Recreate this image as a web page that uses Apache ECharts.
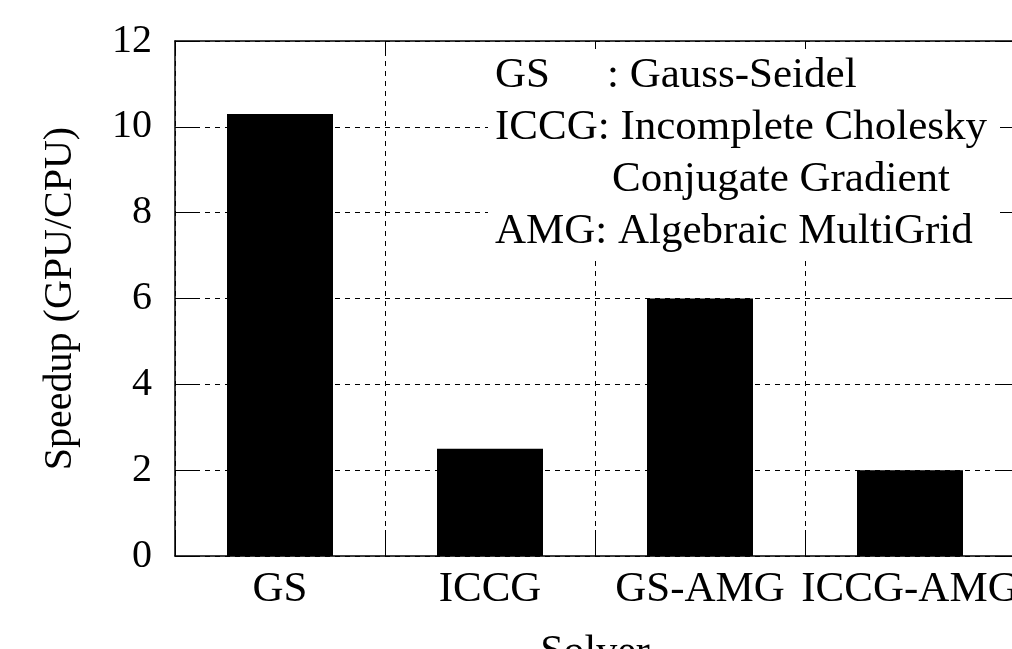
<!DOCTYPE html>
<html>
<head>
<meta charset="utf-8">
<script src="https://cdn.jsdelivr.net/npm/echarts@6/dist/echarts.min.js"></script>
<style>
html,body{margin:0;padding:0;background:#fff;}
#c{width:1012px;height:649px;}
</style>
</head>
<body>
<div id="c"></div>
<script>
const categories = ['GS', 'ICCG', 'GS-AMG', 'ICCG-AMG'];
const speedup = [10.3, 2.5, 6.0, 2.0];
const yTicks = [0, 2, 4, 6, 8, 10, 12];
const keyLines = [
  ['GS', ': Gauss-Seidel'],
  ['ICCG: Incomplete Cholesky', ''],
  ['', 'Conjugate Gradient'],
  ['AMG: Algebraic MultiGrid', '']
];
const xName = 'Solver';
const yName = 'Speedup (GPU/CPU)';

const FONT = '"Liberation Serif", "DejaVu Serif", serif';
const FS = 43;
const YFS = 40;
const KFS = 43;
const chart = echarts.init(document.getElementById('c'), null, {renderer: 'canvas'});

const gridLine = {show: true, interval: 0, lineStyle: {color: '#000', width: 1, type: [5, 5]}};

const graphics = [{
  type: 'rect', z: 50,
  shape: {x: 488, y: 49, width: 512, height: 209},
  style: {fill: '#fff'}
}];
const lineY = [76, 128, 180, 232];
keyLines.forEach((ln, i) => {
  if (ln[0]) graphics.push({type: 'text', z: 51, x: 495, y: lineY[i],
    style: {text: ln[0], font: KFS + 'px ' + FONT, fill: '#000', textVerticalAlign: 'middle'}});
  if (ln[1]) graphics.push({type: 'text', z: 51, x: ln[0] ? 607 : 612, y: lineY[i],
    style: {text: ln[1], font: KFS + 'px ' + FONT, fill: '#000', textVerticalAlign: 'middle'}});
});

chart.setOption({
  animation: false,
  backgroundColor: '#fff',
  textStyle: {fontFamily: FONT},
  grid: {left: 175, top: 41, right: -3, bottom: 93, containLabel: false, outerBoundsMode: 'none'},
  xAxis: [{
    type: 'category', data: categories, position: 'bottom', boundaryGap: true,
    axisLine: {show: true, onZero: false, lineStyle: {color: '#000', width: 1.5}},
    axisTick: {show: true, inside: true, interval: 0, length: 26, lineStyle: {color: '#000'}},
    axisLabel: {color: '#000', fontSize: FS, fontFamily: FONT, margin: 12, interval: 0},
    splitLine: gridLine,
    name: xName, nameLocation: 'middle', nameGap: 76,
    nameTextStyle: {color: '#000', fontSize: 42, fontFamily: FONT}
  }, {
    type: 'category', data: categories, position: 'top', boundaryGap: true,
    axisLine: {show: true, onZero: false, lineStyle: {color: '#000', width: 1.5}},
    axisTick: {show: true, inside: true, interval: 0, length: 10, lineStyle: {color: '#000'}},
    axisLabel: {show: false}, splitLine: {show: false}
  }],
  yAxis: [{
    type: 'value', min: yTicks[0], max: yTicks[yTicks.length - 1], interval: yTicks[1] - yTicks[0],
    position: 'left',
    axisLine: {show: true, lineStyle: {color: '#000', width: 1.5}},
    axisTick: {show: true, inside: true, length: 22, lineStyle: {color: '#000'}},
    axisLabel: {color: '#000', fontSize: YFS, fontFamily: FONT, margin: 23},
    splitLine: gridLine,
    name: yName, nameLocation: 'middle', nameGap: 95, nameRotate: 90,
    nameTextStyle: {color: '#000', fontSize: 40, fontFamily: FONT}
  }, {
    type: 'value', min: yTicks[0], max: yTicks[yTicks.length - 1], interval: yTicks[1] - yTicks[0],
    position: 'right',
    axisLine: {show: true, lineStyle: {color: '#000', width: 1.5}},
    axisTick: {show: true, inside: true, length: 15, lineStyle: {color: '#000'}},
    axisLabel: {show: false}, splitLine: {show: false}
  }],
  series: [{
    type: 'bar', data: speedup, xAxisIndex: 0, yAxisIndex: 0,
    barWidth: 106, itemStyle: {color: '#000'}, z: 2
  }],
  graphic: graphics
});
</script>
</body>
</html>
